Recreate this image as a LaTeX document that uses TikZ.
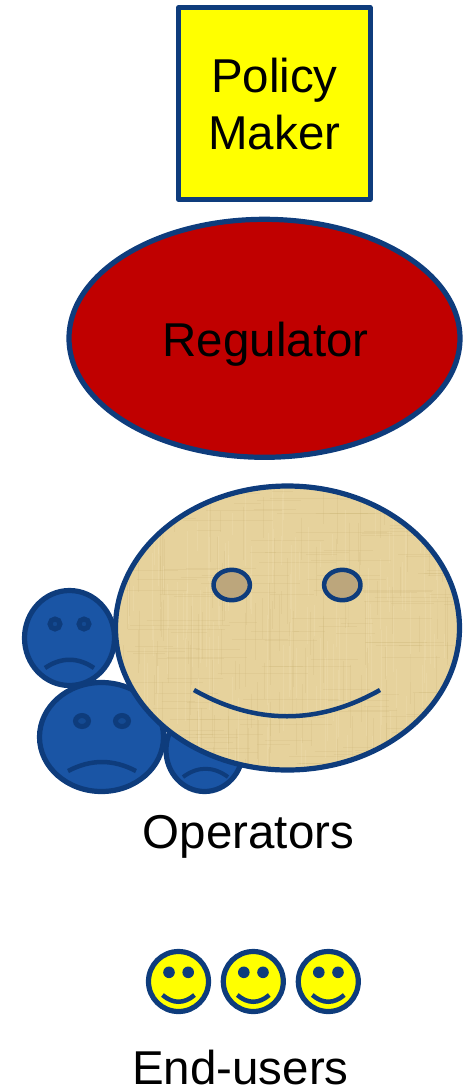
\documentclass[tikz,border=0pt]{standalone}
\usepackage{fontspec}
\setmainfont{Liberation Sans}
\usetikzlibrary{shapes.geometric}
\definecolor{edgeblue}{HTML}{0E3C7C}
\definecolor{sadblue}{HTML}{1A55A5}
\definecolor{sadeyeblue}{HTML}{144A92}
\definecolor{papyrus}{HTML}{E6D29C}
\definecolor{papyrusdark}{HTML}{BCA67C}
\definecolor{papyrusline}{HTML}{C8B070}
\definecolor{papyruspale}{HTML}{F2E2B8}
\definecolor{regred}{HTML}{C00000}
\definecolor{signyellow}{HTML}{FFFF00}

\begin{document}
\begin{tikzpicture}[x=1pt, y=-1pt,
  outline/.style={draw=edgeblue, line width=5.2pt, line join=round},
  sadface/.style={outline, fill=sadblue},
  sadeye/.style={draw=edgeblue, line width=5pt, fill=sadeyeblue},
  mouth/.style={draw=edgeblue, line width=4.5pt},
  label/.style={font=\fontsize{47.5}{57}\selectfont, align=center, inner sep=0pt}]
  \useasboundingbox (0,0) rectangle (466,1088);

  % top boxes
  \node[outline, fill=signyellow, rectangle, minimum width=191.5pt, minimum height=191.5pt]
    (policy) at (274.4,103.5) {};
  \node[label, yshift=-0.5pt] (policytext) at (policy) {Policy\\Maker};
  \node[outline, fill=regred, ellipse, minimum width=391pt, minimum height=238pt]
    (regulator) at (264.5,338.3) {};
  \node[label, xshift=1pt, yshift=-6pt] (regulatortext) at (regulator) {Regulator};

  % unhappy operators
  \draw[sadface] (204.5,750) ellipse[x radius=38.5, y radius=41.5];
  \draw[mouth, line width=4pt] (183,777) .. controls (198,766) and (213,766) .. (228,777);
  \draw[sadface] (101.5,737) ellipse[x radius=62, y radius=54.5];
  \draw[sadeye] (82,721) ellipse[x radius=6.5, y radius=5.5];
  \draw[sadeye] (122,721) ellipse[x radius=6.5, y radius=5.5];
  \draw[mouth] (68,771) .. controls (91,759) and (113,759) .. (136,771);
  \draw[sadface] (69.5,638) ellipse[x radius=45, y radius=47.5];
  \draw[sadeye] (55,624) ellipse[x radius=5, y radius=5];
  \draw[sadeye] (84,624) ellipse[x radius=5, y radius=5];
  \draw[mouth] (45,668) .. controls (61,657) and (78,657) .. (94,668);

  % the big smiling operator
  \fill[papyrus] (287.5,628) ellipse[x radius=172, y radius=142];
  \begin{scope}
    \clip (287.5,628) ellipse[x radius=172, y radius=142];
    \pgfmathsetseed{7}
    \foreach \i in {1,...,150} {
      \pgfmathsetmacro{\px}{110+rnd*355}
      \pgfmathsetmacro{\py}{480+rnd*295}
      \pgfmathsetmacro{\pl}{20+rnd*80}
      \draw[papyruspale, opacity=0.25, line width=1pt] (\px,\py) -- ++(0,\pl);
      \pgfmathsetmacro{\qx}{110+rnd*355}
      \pgfmathsetmacro{\qy}{480+rnd*295}
      \pgfmathsetmacro{\ql}{20+rnd*80}
      \draw[papyrusline, opacity=0.18, line width=1pt] (\qx,\qy) -- ++(\ql,0);
      \pgfmathsetmacro{\rx}{110+rnd*355}
      \pgfmathsetmacro{\ry}{480+rnd*295}
      \pgfmathsetmacro{\rl}{20+rnd*60}
      \draw[papyrusline, opacity=0.18, line width=1pt] (\rx,\ry) -- ++(0,\rl);
    }
  \end{scope}
  \draw[outline] (287.5,628) ellipse[x radius=172, y radius=142];
  \draw[outline, line width=4.5pt, fill=papyrusdark] (231.7,585) ellipse[x radius=18.2, y radius=15.2];
  \draw[outline, line width=4.5pt, fill=papyrusdark] (342.3,585) ellipse[x radius=18.2, y radius=15.2];
  \draw[mouth] (194,690) .. controls (256,725) and (318,725) .. (380,690);

  \node[label] (operators) at (248.5,837) {Operators};

  % end-users
  \foreach \cx/\name in {178.5/a, 253.3/b, 328.3/c} {
    \draw[outline, fill=signyellow] (\cx,981.5) circle[radius=30];
    \fill[edgeblue] (\cx-9.5,972.3) circle[radius=5.8];
    \fill[edgeblue] (\cx+9.7,972.3) circle[radius=5.8];
    \draw[mouth] (\cx-16,995) .. controls (\cx-5.5,1004) and (\cx+5.5,1004) .. (\cx+16,995);
  }
  \node[label] (endusers) at (240.5,1068) {End-users};
\end{tikzpicture}
\end{document}
